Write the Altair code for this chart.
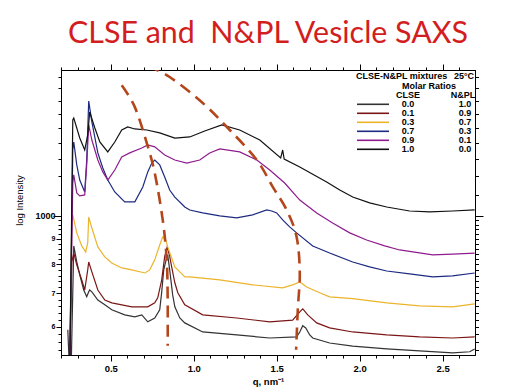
import altair as alt
import pandas as pd

TITLE = "CLSE and \u00a0N&PL Vesicle SAXS"
X_TITLE = "q, nm⁻¹"
Y_TITLE = "log Intensity"
LEGEND_HEAD = "CLSE-N&PL mixtures"
LEGEND_TEMP = "25°C"
LEGEND_SUB = "Molar Ratios"
COL_A = "CLSE"
COL_B = "N&PL"

clse_ratio = ["0.0", "0.1", "0.3", "0.7", "0.9", "1.0"]
npl_ratio = ["1.0", "0.9", "0.7", "0.3", "0.1", "0.0"]
series_colors = ["#333333", "#7b1616", "#ecb42c", "#1c2a80", "#8e1c8e", "#111111"]
guide_color = "#B4461C"

# CLSE 0.0
q_00 = [0.241, 0.249, 0.262, 0.277, 0.295, 0.313, 0.337, 0.355, 0.367, 0.373, 0.386, 0.422, 0.464, 0.506, 0.584,
        0.645, 0.687, 0.723, 0.765, 0.795, 0.807, 0.819, 0.831, 0.843, 0.855, 0.873, 0.886, 0.916, 0.946, 1.054,
        1.259, 1.458, 1.620, 1.639, 1.657, 1.675, 1.699, 1.717, 1.819, 1.958, 2.163, 2.361, 2.560, 2.663, 2.693]
I_00 = [592, 510, 510, 871, 809, 762, 711, 689, 705, 711, 705, 679, 664, 649, 634,
        628, 634, 614, 625, 649, 705, 780, 810, 836, 780, 695, 658, 625, 611, 586,
        578, 570, 573, 586, 603, 597, 578, 570, 557, 549, 542, 537, 532, 535, 542]
# CLSE 0.1
q_01 = [0.253, 0.265, 0.277, 0.295, 0.325, 0.343, 0.361, 0.367, 0.386, 0.422, 0.464, 0.506, 0.627, 0.723, 0.765,
        0.783, 0.807, 0.825, 0.840, 0.855, 0.867, 0.886, 0.904, 0.946, 1.054, 1.259, 1.458, 1.596, 1.639, 1.657,
        1.687, 1.741, 1.819, 1.958, 2.163, 2.361, 2.560, 2.693]
I_01 = [500, 809, 843, 798, 745, 711, 780, 809, 773, 711, 679, 670, 658, 658, 670,
        686, 745, 830, 867, 830, 791, 735, 702, 664, 634, 625, 614, 619, 643, 652,
        634, 611, 597, 586, 578, 573, 570, 573]
# CLSE 0.3
q_03 = [0.253, 0.265, 0.271, 0.295, 0.325, 0.349, 0.361, 0.367, 0.386, 0.422, 0.464, 0.506, 0.566, 0.627, 0.705,
        0.735, 0.765, 0.795, 0.813, 0.831, 0.843, 0.867, 0.886, 0.916, 0.946, 0.976, 1.157, 1.355, 1.536, 1.596,
        1.639, 1.681, 1.759, 1.819, 1.958, 2.163, 2.361, 2.560, 2.693]
I_03 = [500, 973, 1005, 925, 871, 847, 883, 995, 946, 867, 828, 805, 787, 780, 769,
        780, 817, 875, 908, 895, 867, 824, 791, 773, 755, 755, 745, 728, 718, 728,
        738, 721, 702, 689, 683, 670, 661, 658, 667]
# CLSE 0.7
q_07 = [0.253, 0.271, 0.277, 0.295, 0.313, 0.343, 0.355, 0.367, 0.386, 0.422, 0.452, 0.482, 0.524, 0.584, 0.645,
        0.693, 0.723, 0.747, 0.765, 0.795, 0.825, 0.855, 0.886, 0.946, 0.976, 1.054, 1.157, 1.259, 1.355, 1.440,
        1.470, 1.500, 1.536, 1.578, 1.620, 1.717, 1.819, 1.958, 2.060, 2.163, 2.301, 2.440, 2.560, 2.693]
I_07 = [500, 1355, 1406, 1265, 1180, 1117, 1294, 1698, 1542, 1337, 1247, 1180, 1117, 1067, 1067,
        1143, 1225, 1276, 1294, 1265, 1197, 1127, 1091, 1042, 1028, 1014, 1000, 991, 1005, 1028,
        1023, 1014, 982, 951, 925, 871, 843, 809, 791, 776, 766, 755, 759, 769]
# CLSE 0.9
q_09 = [0.253, 0.271, 0.277, 0.295, 0.313, 0.343, 0.355, 0.367, 0.386, 0.422, 0.452, 0.482, 0.524, 0.566, 0.614,
        0.687, 0.723, 0.765, 0.825, 0.886, 0.958, 1.036, 1.096, 1.157, 1.277, 1.380, 1.458, 1.548, 1.639, 1.741,
        1.837, 1.940, 2.042, 2.151, 2.241, 2.440, 2.560, 2.693]
I_09 = [500, 1164, 1208, 1112, 1097, 1102, 1265, 1521, 1419, 1294, 1225, 1180, 1236, 1312, 1337,
        1368, 1387, 1375, 1324, 1294, 1276, 1294, 1337, 1362, 1343, 1294, 1236, 1164, 1076, 1014,
        968, 925, 895, 871, 855, 836, 839, 843]
# CLSE 1.0
q_10 = [0.253, 0.271, 0.277, 0.313, 0.343, 0.361, 0.373, 0.404, 0.434, 0.482, 0.524, 0.566, 0.602, 0.645, 0.717,
        0.795, 0.886, 0.976, 1.066, 1.169, 1.277, 1.398, 1.524, 1.536, 1.545, 1.639, 1.801, 1.880, 1.958, 2.060,
        2.163, 2.301, 2.422, 2.560, 2.693]
I_10 = [500, 1556, 1570, 1432, 1355, 1452, 1614, 1500, 1406, 1343, 1406, 1486, 1507, 1493, 1486,
        1466, 1432, 1439, 1479, 1521, 1486, 1419, 1306, 1355, 1300, 1253, 1169, 1127, 1091, 1062,
        1042, 1023, 1019, 1023, 1028]

# dashed guide curves
q_guideA = [0.566, 0.645, 0.717, 0.765, 0.813, 0.837, 0.843, 0.843]
I_guideA = [1827, 1651, 1399, 1219, 982, 817, 679, 550]
q_guideB = [0.723, 0.855, 1.054, 1.217, 1.380, 1.476, 1.560, 1.620, 1.639, 1.627, 1.617]
I_guideB = [1995, 1897, 1683, 1486, 1294, 1143, 1028, 908, 769, 649, 540]

x_ticks = [round(0.2 + 0.1 * i, 1) for i in range(25)]
y_ticks = list(range(540, 1000, 20)) + list(range(1000, 2000, 100))

series_q = [q_00, q_01, q_03, q_07, q_09, q_10]
series_I = [I_00, I_01, I_03, I_07, I_09, I_10]

rows = []
for name, qs, Is in zip(clse_ratio, series_q, series_I):
    for k, (q, v) in enumerate(zip(qs, Is)):
        rows.append({"q": q, "I": v, "series": name, "idx": k})
df = pd.DataFrame(rows)

grows = []
for gname, qs, Is in [("A", q_guideA, I_guideA), ("B", q_guideB, I_guideB)]:
    for k, (q, v) in enumerate(zip(qs, Is)):
        grows.append({"q": q, "I": v, "guide": gname, "idx": k})
gdf = pd.DataFrame(grows)

W, H = 414, 285
xscale = alt.Scale(domain=[0.2, 2.695], nice=False, zero=False)
yscale = alt.Scale(type="log", domain=[527, 1959], nice=False)

major_x = "abs(datum.value*2 - round(datum.value*2)) < 0.001"
lab_font = "Liberation Sans"

x_bottom = alt.Axis(
    orient="bottom", values=x_ticks, title=X_TITLE,
    labelExpr=f"({major_x}) ? format(datum.value, '.1f') : ''",
    tickSize={"condition": {"test": major_x, "value": 6}, "value": 3},
    labelFont=lab_font, labelFontSize=9.5, labelFontWeight="bold", labelPadding=2,
    labelOverlap=False, labelFlush=False,
    titleFont=lab_font, titleFontSize=9.5, titleFontWeight="bold",
    titleX=207, titleY=26, titleBaseline="middle", titleAlign="center",
)
y_left = alt.Axis(
    orient="left", values=y_ticks, title=Y_TITLE,
    labelExpr="datum.value == 1000 ? '1000' : (datum.value == 900 ? '9' : (datum.value == 800 ? '8' : (datum.value == 700 ? '7' : (datum.value == 600 ? '6' : ''))))",
    tickSize={"condition": [{"test": "datum.value == 1000", "value": 8},
                            {"test": "datum.value % 100 == 0 && datum.value < 1000", "value": 5}],
              "value": 3},
    labelFontSize={"condition": {"test": "datum.value == 1000", "value": 9}, "value": 7},
    labelPadding={"condition": {"test": "datum.value == 1000", "value": -2}, "value": 1},
    labelFont=lab_font, labelFontWeight="bold",
    labelOverlap=False,
    titleFont=lab_font, titleFontSize=9.5, titleFontWeight="normal",
    titleX=-42, titleY=130, titleAngle=270, titleBaseline="middle", titleAlign="center",
)
x_top = alt.Axis(orient="top", values=x_ticks, labels=False, title="",
                 tickSize={"condition": {"test": major_x, "value": 6}, "value": 3})
y_right = alt.Axis(orient="right", values=y_ticks, labels=False, title="",
                   tickSize={"condition": {"test": "datum.value == 1000", "value": 8}, "value": 3.5})

lines = alt.Chart(df).mark_line(clip=True, strokeWidth=1.2).encode(
    x=alt.X("q:Q", scale=xscale, axis=x_bottom),
    y=alt.Y("I:Q", scale=yscale, axis=y_left),
    color=alt.Color("series:N", scale=alt.Scale(domain=clse_ratio, range=series_colors), legend=None),
    order=alt.Order("idx:Q"),
)

guides = alt.Chart(gdf).mark_line(clip=True, strokeWidth=2.6, strokeDash=[12, 7], color=guide_color,
                                  interpolate="cardinal").encode(
    x=alt.X("q:Q", scale=xscale, axis=None),
    y=alt.Y("I:Q", scale=yscale, axis=None),
    detail="guide:N",
    order=alt.Order("idx:Q"),
)

mirror = alt.Chart(pd.DataFrame({"q": [0.5, 2.5], "I": [600, 1500]})).mark_point(opacity=0).encode(
    x=alt.X("q:Q", scale=xscale, axis=x_top),
    y=alt.Y("I:Q", scale=yscale, axis=y_right),
)

title_layer = alt.Chart(pd.DataFrame({"t": [TITLE]})).mark_text(
    font="Lato", fontSize=30.4, color="#D21E1E", align="center", baseline="alphabetic"
).encode(x=alt.value(207), y=alt.value(-27), text="t:N")

def txt(s, x, y, align="center", size=9):
    return alt.Chart(pd.DataFrame({"t": [s]})).mark_text(
        font=lab_font, fontSize=size, fontWeight="bold", color="black", align=align, baseline="middle"
    ).encode(x=alt.value(x), y=alt.value(y), text="t:N")

legend_layers = [
    txt(LEGEND_HEAD, 295, 6, align="left"),
    txt(LEGEND_TEMP, 413, 6, align="right"),
    txt(LEGEND_SUB, 368, 16),
    txt(COL_A, 347, 25),
    txt(COL_B, 402, 25),
]
for i, (a, b, col) in enumerate(zip(clse_ratio, npl_ratio, series_colors)):
    yy = 34.3 + 9 * i
    legend_layers.append(
        alt.Chart(pd.DataFrame({"t": [a]})).mark_rule(color=col, strokeWidth=1.6).encode(
            x=alt.value(296), x2=alt.value(328), y=alt.value(yy))
    )
    legend_layers.append(txt(a, 347, yy))
    legend_layers.append(txt(b, 404, yy))

chart = alt.layer(lines, guides, mirror, title_layer, *legend_layers).resolve_axis(
    x="independent", y="independent"
).properties(
    width=W, height=H,
    autosize=alt.AutoSizeParams(type="none"),
    padding={"left": 53, "top": 62, "right": 40, "bottom": 32},
).configure_view(stroke="black", strokeWidth=1).configure_axis(
    domainColor="black", tickColor="black", labelColor="black", titleColor="black", grid=False,
    domainWidth=1, tickWidth=1
)

chart.save("out.html", embed_options={"renderer": "svg", "actions": False})
